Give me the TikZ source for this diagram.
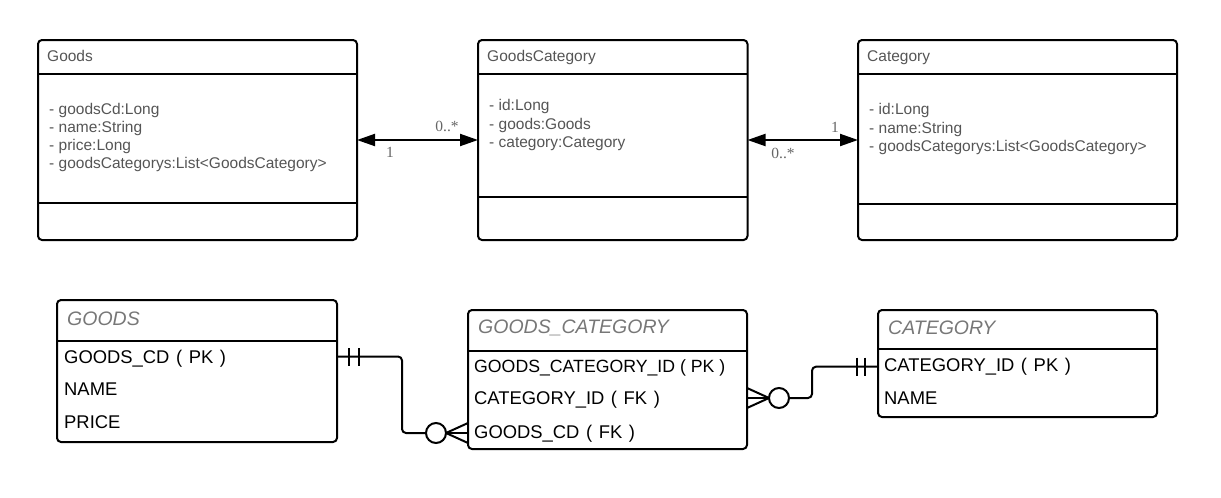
\documentclass[tikz,border=0pt]{standalone}
\usepackage{fontspec}
\setmainfont{Liberation Sans}
\newfontfamily\seriflbl{Liberation Serif}
\usetikzlibrary{arrows.meta}
\definecolor{txtgray}{HTML}{555555}
\definecolor{hdrgray}{HTML}{777777}
\definecolor{lblgray}{HTML}{666666}
\newcommand{\wsp}{\hspace{6.6pt}}
\begin{document}
\begin{tikzpicture}[x=1pt,y=-1pt,
  box/.style={draw, line width=2pt, rounded corners=4pt, inner sep=0pt, outer sep=0pt},
  sepline/.style={line width=2pt},
  umltxt/.style={anchor=base west, inner sep=0pt, text=txtgray, font=\fontsize{15.5}{18}\selectfont},
  lbl/.style={anchor=base, inner sep=0pt, text=lblgray, font=\seriflbl\fontsize{15.5}{17}\selectfont},
  erhdr/.style={anchor=base west, inner sep=0pt, text=hdrgray, font=\fontsize{19.5}{22}\selectfont\itshape},
  errow/.style={anchor=base west, inner sep=0pt, text=black, font=\fontsize{18.4}{20}\selectfont},
  errowtight/.style={errow, font=\fontsize{17.7}{20}\selectfont},
  biarrow/.style={line width=2pt, {Triangle[length=18pt,width=12pt]}-{Triangle[length=18pt,width=12pt]}},
  conn/.style={line width=2pt, line cap=butt},
  zerocirc/.style={draw, circle, line width=2pt, minimum size=20pt, inner sep=0pt, outer sep=0pt}
]
\useasboundingbox (0,0) rectangle (1221,498);

% ---------- UML class boxes ----------
\node[box, minimum width=319pt, minimum height=200pt] (goods) at (197.5,140) {};
\node[box, minimum width=269.5pt, minimum height=200pt] (gc) at (612.75,140) {};
\node[box, minimum width=319pt, minimum height=200pt] (cat) at (1017.5,140) {};

\draw[sepline] (goods.west |- 0,74.3) -- (goods.east |- 0,74.3);
\draw[sepline] (goods.west |- 0,202.7) -- (goods.east |- 0,202.7);
\draw[sepline] (gc.west |- 0,74.3) -- (gc.east |- 0,74.3);
\draw[sepline] (gc.west |- 0,196.7) -- (gc.east |- 0,196.7);
\draw[sepline] (cat.west |- 0,74.3) -- (cat.east |- 0,74.3);
\draw[sepline] (cat.west |- 0,204.3) -- (cat.east |- 0,204.3);

\node[umltxt] (goodsT) at (47,61.5) {Goods};
\node[umltxt] (goodsA1) at (49,114) {- goodsCd:Long};
\node[umltxt] (goodsA2) at (49,132.3) {- name:String};
\node[umltxt] (goodsA3) at (49,150.6) {- price:Long};
\node[umltxt] (goodsA4) at (49,168.9) {- goodsCategorys:List<GoodsCategory>};

\node[umltxt] (gcT) at (487,61.5) {GoodsCategory};
\node[umltxt] (gcA1) at (489,110.7) {- id:Long};
\node[umltxt] (gcA2) at (489,129) {- goods:Goods};
\node[umltxt] (gcA3) at (489,147.3) {- category:Category};

\node[umltxt] (catT) at (867,61.5) {Category};
\node[umltxt] (catA1) at (869,114.7) {- id:Long};
\node[umltxt] (catA2) at (869,133) {- name:String};
\node[umltxt] (catA3) at (869,151.3) {- goodsCategorys:List<GoodsCategory>};

% associations
\draw[biarrow] (goods.east) -- (gc.west);
\draw[biarrow] (gc.east) -- (cat.west);
\node[lbl] (l1) at (447,131) {0..*};
\node[lbl] (l2) at (390,157.5) {1};
\node[lbl] (l3) at (835,132) {1};
\node[lbl] (l4) at (783,158.5) {0..*};

% ---------- ER tables ----------
\node[box, minimum width=280pt, minimum height=142pt] (tg) at (197,371) {};
\node[box, minimum width=279pt, minimum height=139pt] (tgc) at (607.5,379.5) {};
\node[box, minimum width=279pt, minimum height=107pt] (tc) at (1017.5,363.5) {};

\draw[sepline] (tg.west |- 0,341) -- (tg.east |- 0,341);
\draw[sepline] (tgc.west |- 0,351) -- (tgc.east |- 0,351);
\draw[sepline] (tc.west |- 0,349.3) -- (tc.east |- 0,349.3);

\node[erhdr] (tgT) at (67,325) {GOODS};
\node[errow] (tgR1) at (64,363) {GOODS\_CD\wsp(\wsp PK\wsp)};
\node[errow] (tgR2) at (64,395.3) {NAME};
\node[errow] (tgR3) at (64,428) {PRICE};

\node[erhdr] (tgcT) at (478,333.7) {GOODS\_CATEGORY};
\node[errowtight] (tgcR1) at (474,372.3) {GOODS\_CATEGORY\_ID ( PK )};
\node[errow] (tgcR2) at (474,404.6) {CATEGORY\_ID\wsp(\wsp FK\wsp)};
\node[errow] (tgcR3) at (474,438) {GOODS\_CD\wsp(\wsp FK\wsp)};

\node[erhdr] (tcT) at (888,334.3) {CATEGORY};
\node[errow] (tcR1) at (884,371.3) {CATEGORY\_ID\wsp(\wsp PK\wsp)};
\node[errow] (tcR2) at (884,404.6) {NAME};

% relationship GOODS -> GOODS_CATEGORY
\coordinate (yA) at (0,356.5);
\coordinate (yB) at (0,433);
\node[zerocirc] (z1) at (436,433) {};
\draw[conn, rounded corners=4pt] (tg.east |- yA) -- (402,356.5) -- (402,433) -- (z1.west);
\draw[conn] (349,348) -- (349,366);
\draw[conn] (359,348) -- (359,366);
\draw[conn] (z1.east) -- (tgc.west |- 0,423);
\draw[conn] (z1.east) -- (tgc.west |- yB);
\draw[conn] (z1.east) -- (tgc.west |- 0,443);

% relationship CATEGORY -> GOODS_CATEGORY
\coordinate (yC) at (0,398);
\coordinate (yD) at (0,366.7);
\node[zerocirc] (z2) at (779,398) {};
\draw[conn] (tgc.east |- 0,388) -- (z2.west);
\draw[conn] (tgc.east |- yC) -- (z2.west);
\draw[conn] (tgc.east |- 0,408) -- (z2.west);
\draw[conn, rounded corners=4pt] (z2.east) -- (812,398) -- (812,366.7) -- (tc.west |- yD);
\draw[conn] (857,357.7) -- (857,375.7);
\draw[conn] (864.5,357.7) -- (864.5,375.7);
\end{tikzpicture}
\end{document}
